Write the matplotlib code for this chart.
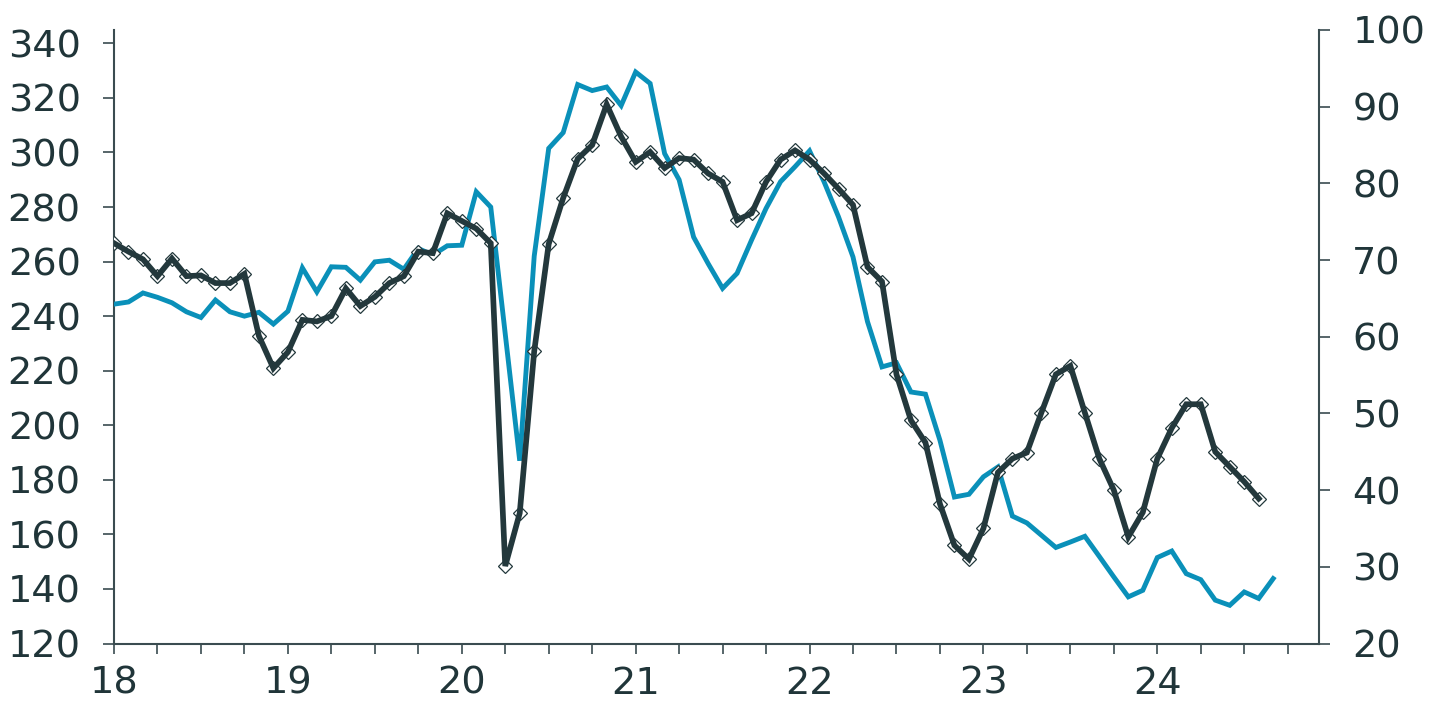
import matplotlib
matplotlib.use("Agg")
import matplotlib.pyplot as plt
import numpy as np
from matplotlib.ticker import FixedLocator, MultipleLocator

# ---- data (monthly, starting Jan 2018) ----
blue_values = [244.4, 245.2, 248.5, 246.9, 244.9, 241.6, 239.5, 245.9, 241.6, 240.0,
               241.4, 237.1, 241.8, 257.7, 248.9, 258.1, 257.9, 253.2, 259.9, 260.5,
               257.2, 264.8, 262.4, 265.8, 266.0, 285.6, 280.0, 233.5, 187.0, 262.0,
               301.5, 307.3, 324.9, 322.7, 324.0, 317.2, 329.5, 325.3, 299.6, 290.0,
               269.0, 259.3, 250.2, 255.7, 267.9, 279.5, 289.3, 294.8, 300.6, 289.3,
               276.4, 261.7, 238.0, 221.4, 222.9, 212.2, 211.4, 194.5, 173.7, 174.7,
               181.1, 184.7, 166.7, 164.2, 159.7, 155.2, 157.2, 159.3, 151.9, 144.4,
               137.1, 139.5, 151.5, 153.9, 145.6, 143.4, 135.9, 134.0, 138.9, 136.5,
               143.8]
dark_values = [72.2, 71.1, 70.1, 67.9, 70.2, 67.9, 68.0, 67.0, 67.0, 68.2,
               60.1, 55.9, 58.0, 62.2, 62.0, 62.7, 66.3, 64.0, 65.2, 67.0,
               67.9, 71.1, 70.9, 76.1, 75.1, 74.1, 72.2, 30.1, 37.0, 58.1,
               72.1, 78.1, 83.2, 85.0, 90.3, 86.1, 82.8, 84.1, 82.0, 83.3,
               83.1, 81.3, 80.2, 75.2, 76.1, 80.2, 83.1, 84.3, 83.1, 81.3,
               79.3, 77.2, 69.1, 67.2, 55.1, 49.1, 46.2, 38.2, 32.8, 31.0,
               35.0, 42.3, 44.1, 44.9, 50.1, 55.1, 56.2, 50.1, 44.1, 40.0,
               33.9, 37.1, 44.1, 48.1, 51.2, 51.2, 45.0, 43.05, 41.1, 38.9]
year_ticks = [18, 19, 20, 21, 22, 23, 24]
year_labels = ["18", "19", "20", "21", "22", "23", "24"]
left_ticks = [120, 140, 160, 180, 200, 220, 240, 260, 280, 300, 320, 340]
right_ticks = [20, 30, 40, 50, 60, 70, 80, 90, 100]

start_year = 18.0
x_blue = start_year + np.arange(len(blue_values)) / 12.0
x_dark = start_year + np.arange(len(dark_values)) / 12.0

# ---- style ----
TEXT = "#203539"
SPINE = "#3a4c50"
BLUE = "#0a90b9"
DARK = "#23383c"
FS = 27.5
plt.rcParams["font.family"] = ["DejaVu Sans"]

W, H = 1446, 705
fig = plt.figure(figsize=(W / 100, H / 100), dpi=100)
left, right, top, bottom = 114, 1319, 30, 643.5
ax = fig.add_axes([left / W, 1 - bottom / H, (right - left) / W, (bottom - top) / H])
ax2 = ax.twinx()

ax.plot(x_blue, blue_values, color=BLUE, lw=3.5, solid_joinstyle="miter", zorder=3)

ax2.plot(x_dark, dark_values, linestyle="none", marker="D", markersize=7.5,
         markerfacecolor="white", markeredgecolor=DARK, markeredgewidth=0.9, zorder=2)
ax2.plot(x_dark, dark_values, color=DARK, lw=4.1, solid_joinstyle="miter", zorder=3)

ax.set_xlim(18, 24.93)
ax.set_ylim(120, 344.9)
ax2.set_ylim(20, 100)

ax.xaxis.set_major_locator(FixedLocator(year_ticks))
ax.set_xticklabels(year_labels)
ax.xaxis.set_minor_locator(MultipleLocator(0.25))
ax.yaxis.set_major_locator(FixedLocator(left_ticks))
ax2.yaxis.set_major_locator(FixedLocator(right_ticks))

for a in (ax, ax2):
    for s in a.spines.values():
        s.set_color(SPINE)
        s.set_linewidth(1.5)
    a.spines["top"].set_visible(False)
ax2.spines["left"].set_visible(False)
ax2.spines["bottom"].set_visible(False)
ax.spines["right"].set_visible(False)

ax.tick_params(axis="y", which="major", direction="out", length=8, width=1.2,
               color=SPINE, labelcolor=TEXT, labelsize=FS, pad=16)
ax2.tick_params(axis="y", which="major", direction="out", length=8, width=1.2,
                color=SPINE, labelcolor=TEXT, labelsize=FS, pad=16)
ax.tick_params(axis="x", which="both", direction="out", length=7, width=1.2,
               color=SPINE, labelcolor=TEXT, labelsize=FS, pad=9)

fig.savefig("out.png", dpi=100, facecolor="white")
